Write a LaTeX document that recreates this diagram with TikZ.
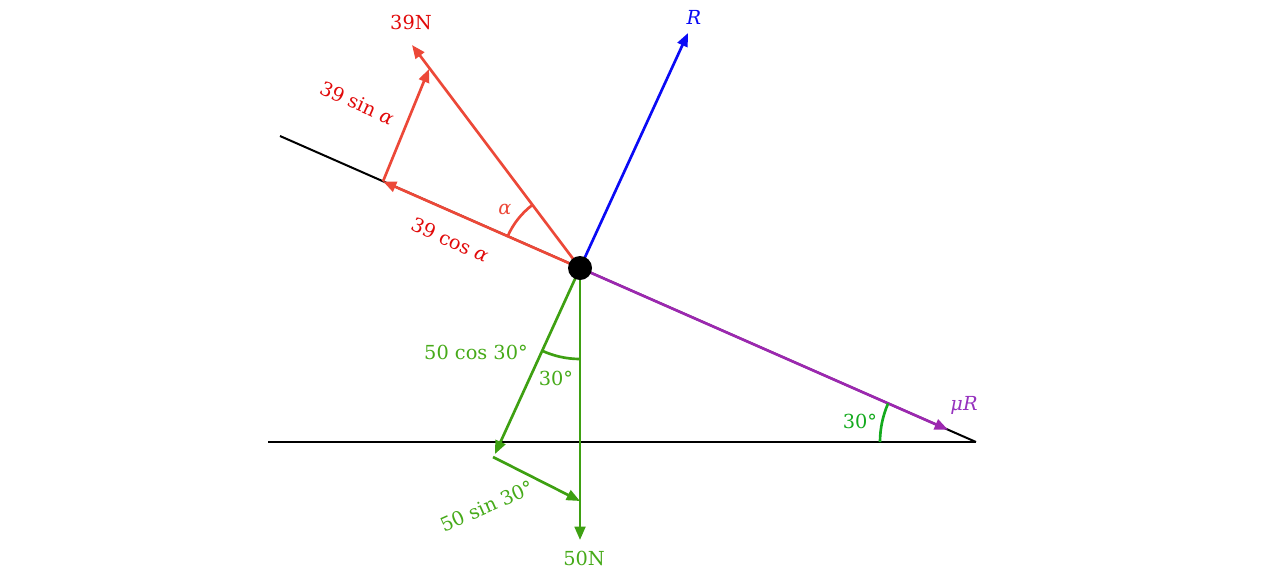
\documentclass[tikz,border=0pt]{standalone}
\usepackage{fontspec}
\setmainfont{DejaVu Serif}
\usetikzlibrary{arrows.meta,calc}
\definecolor{fred}{RGB}{236,72,56}
\definecolor{tred}{RGB}{225,10,10}
\definecolor{fblue}{RGB}{10,10,245}
\definecolor{fpurple}{RGB}{156,40,176}
\definecolor{tpurple}{RGB}{150,50,190}
\definecolor{fgreen}{RGB}{62,160,18}
\definecolor{tgreen}{RGB}{70,170,25}
\definecolor{agreen}{RGB}{20,170,30}
\tikzset{
  vec/.style={line width=2pt,-{Triangle[length=10pt,width=8pt]}},
  base/.style={line width=1.5pt,black},
  lbl/.style={font=\fontsize{14.5}{17}\selectfont,inner sep=0pt},
}
\begin{document}
\begin{tikzpicture}[x=0.75pt,y=-0.75pt]
\useasboundingbox (0,0) rectangle (1280,572);
% points
\coordinate (P) at (580,268);
\coordinate (H1) at (268,442);
\coordinate (H2) at (976,442);
\coordinate (I1) at (280,136);
\coordinate (C) at (383,181.4);
\coordinate (T39) at (412,45);
\coordinate (S39) at (429,69);
\coordinate (TR) at (688,33);
\coordinate (MU) at (948,429.7);
\coordinate (W) at (580,540);
\coordinate (GC) at (495,454);
\coordinate (GS0) at (493,457);
\coordinate (GS) at (580,501);
% lines
\draw[base] (H1) -- (H2);
\draw[base] (H2) -- (I1);
% red
\draw[vec,fred] (P) -- (C);
\draw[vec,fred] (C) -- (S39);
\draw[vec,fred] (P) -- (T39);
\draw[fred,line width=2pt] ($(P)+(-156.3:79)$) arc[start angle=-156.3,end angle=-126.9,radius=79];
% blue
\draw[vec,fblue] (P) -- (TR);
% purple
\draw[vec,fpurple] (P) -- (MU);
% green
\draw[vec,fgreen] (P) -- (W);
\draw[vec,fgreen] (P) -- (GC);
\draw[vec,fgreen] (GS0) -- (GS);
\draw[fgreen,line width=2pt] ($(P)+(90:91)$) arc[start angle=90,end angle=114.8,radius=91];
\draw[agreen,line width=2pt] ($(H2)+(180:96)$) arc[start angle=180,end angle=203.7,radius=96];
% dot
\fill[black] (P) circle[radius=12];
% labels
\node[lbl,text=tred] (l39N) at (411,22) {39N};
\node[lbl,text=tred,rotate=-24] (l39s) at (357,103) {39 sin \textit{α}};
\node[lbl,text=tred,rotate=-24] (l39c) at (450,240) {39 cos \textit{α}};
\node[lbl,text=fred] (la) at (505,209) {\textit{α}};
\node[lbl,text=fblue] (lR) at (694,17) {\textit{R}};
\node[lbl,text=tpurple] (lmu) at (964,405) {\textit{μR}};
\node[lbl,text=agreen] (l30r) at (860,421) {30°};
\node[lbl,text=tgreen] (l50c) at (476,352) {50 cos 30°};
\node[lbl,text=tgreen] (l30g) at (556,378) {30°};
\node[lbl,text=tgreen,rotate=24] (l50s) at (487,506) {50 sin 30°};
\node[lbl,text=tgreen] (l50N) at (584,558) {50N};
\end{tikzpicture}
\end{document}
